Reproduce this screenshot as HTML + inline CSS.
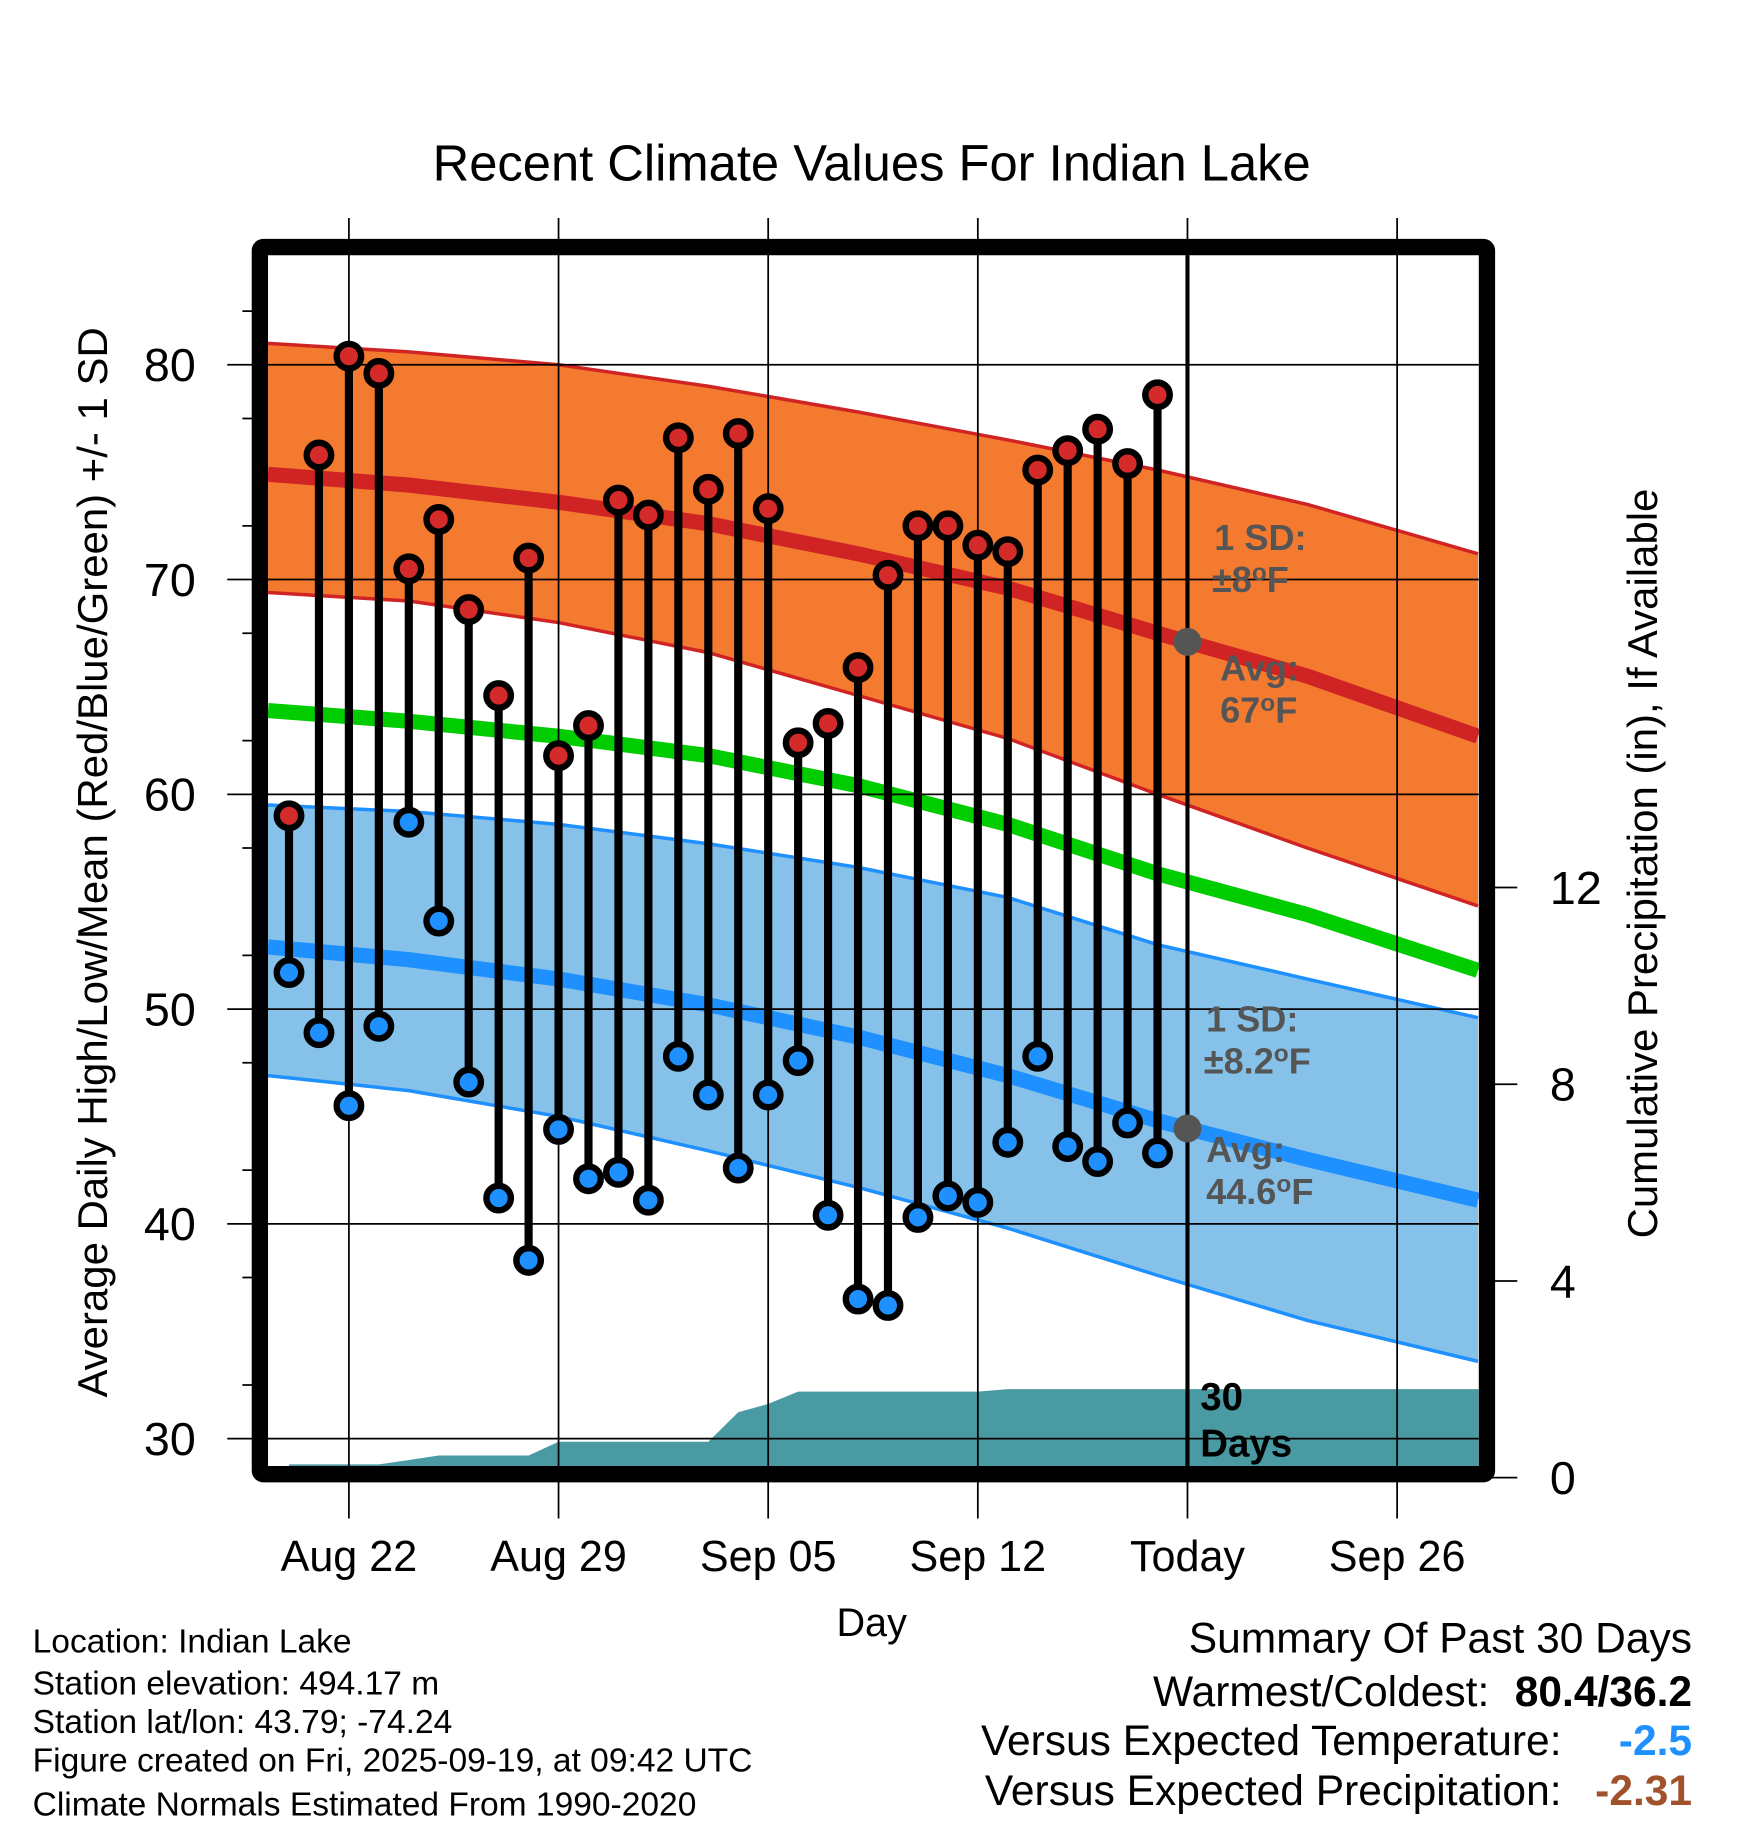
<!DOCTYPE html>
<html><head><meta charset="utf-8">
<style>
html,body{margin:0;padding:0;background:#fff;}
svg{display:block;font-family:"Liberation Sans",Arial,sans-serif;}
</style></head>
<body>
<svg id="chart" width="1748" height="1828" viewBox="0 0 1500 1568.6" xmlns="http://www.w3.org/2000/svg">
<text x="748" y="155" font-size="43.5" text-anchor="middle">Recent Climate Values For Indian Lake</text>
<g id="plot"></g>
<text transform="translate(92,740) rotate(-90)" font-size="36" text-anchor="middle">Average Daily High/Low/Mean (Red/Blue/Green) +/- 1 SD</text>
<text transform="translate(1422,741) rotate(-90)" font-size="36" text-anchor="middle">Cumulative Precipitation (in), If Available</text>
<text x="748" y="1404" font-size="34" text-anchor="middle">Day</text>
<g font-size="28.8">
<text x="28" y="1418">Location: Indian Lake</text>
<text x="28" y="1454">Station elevation: 494.17 m</text>
<text x="28" y="1487">Station lat/lon: 43.79; -74.24</text>
<text x="28" y="1520">Figure created on Fri, 2025-09-19, at 09:42 UTC</text>
<text x="28" y="1558">Climate Normals Estimated From 1990-2020</text>
</g>
<g font-size="36.5" text-anchor="end">
<text x="1452" y="1418">Summary Of Past 30 Days</text>
<text x="1278" y="1464">Warmest/Coldest:</text>
<text x="1452" y="1464" font-weight="bold">80.4/36.2</text>
<text x="1340" y="1506">Versus Expected Temperature:</text>
<text x="1452" y="1506" font-weight="bold" fill="#1e90ff">-2.5</text>
<text x="1340" y="1549">Versus Expected Precipitation:</text>
<text x="1452" y="1549" font-weight="bold" fill="#a0522d">-2.31</text>
</g>
</svg>
<script>
// ---- data ----
const highs=[59.0,75.8,80.4,79.6,70.5,72.8,68.6,64.6,71.0,61.8,63.2,73.7,73.0,76.6,74.2,76.8,73.3,62.4,63.3,65.9,70.2,72.5,72.5,71.6,71.3,75.1,76.0,77.0,75.4,78.6];
const lows=[51.7,48.9,45.5,49.2,58.7,54.1,46.6,41.2,38.3,44.4,42.1,42.4,41.1,47.8,46.0,42.6,46.0,47.6,40.4,36.5,36.2,40.3,41.3,41.0,43.8,47.8,43.6,42.9,44.7,43.3];
const precipCum=[0.27,0.27,0.27,0.27,0.36,0.45,0.45,0.45,0.45,0.73,0.73,0.73,0.73,0.73,0.73,1.33,1.5,1.75,1.75,1.75,1.75,1.75,1.75,1.75,1.8,1.8,1.8,1.8,1.8,1.8];
const normDays=[-0.7,4,9,14,19,24,29,34,39.7];
const avgHigh=[74.9,74.4,73.6,72.6,71.2,69.6,67.5,65.5,62.7];
const upHigh=[81.0,80.6,80.0,79.0,77.8,76.5,75.1,73.5,71.2];
const loHigh=[69.4,69.0,68.0,66.6,64.6,62.6,60.0,57.5,54.8];
const avgMean=[63.9,63.4,62.7,61.8,60.4,58.6,56.3,54.4,51.8];
const avgLow=[52.9,52.3,51.4,50.2,48.7,46.9,44.8,43.0,41.1];
const upLow=[59.5,59.2,58.6,57.7,56.6,55.2,53.0,51.4,49.6];
const loLow=[46.9,46.2,45.0,43.4,41.7,39.8,37.6,35.5,33.6];
const yTicks=[30,40,50,60,70,80];
const y2Ticks=[0,4,8,12];
const xTickDays=[2,9,16,23,30,37];
const xTickLabels=["Aug 22","Aug 29","Sep 05","Sep 12","Today","Sep 26"];
const todayDay=30;
// ---- scales ----
const X=d=>248+25.7*d;
const Y=t=>313+(80-t)*18.43;
const Y2=p=>1268-p*42.2;
const NS="http://www.w3.org/2000/svg";
const g=document.getElementById('plot');
function el(tag,attrs,parent){const e=document.createElementNS(NS,tag);for(const k in attrs)e.setAttribute(k,attrs[k]);(parent||g).appendChild(e);return e;}
const L=230,R=1269,T=219,B=1258;
const defs=el('defs',{});
const cp=el('clipPath',{id:'cp'},defs);el('rect',{x:L,y:T,width:R-L,height:B-T},cp);
const inner=el('g',{'clip-path':'url(#cp)'});
function pts(days,vals){return days.map((d,i)=>X(d).toFixed(1)+','+Y(vals[i]).toFixed(1));}
let e=el('polygon',{points:pts(normDays,upHigh).concat(pts(normDays,loHigh).reverse()).join(' '),fill:'#f47a30'},inner);

e=el('polygon',{points:pts(normDays,upLow).concat(pts(normDays,loLow).reverse()).join(' '),fill:'#85c1e9'},inner);

const pp=[X(0)+','+B];precipCum.forEach((p,i)=>pp.push(X(i)+','+Y2(p)));pp.push(R+','+Y2(precipCum[precipCum.length-1]));pp.push(R+','+B);
e=el('polygon',{points:pp.join(' '),fill:'#4a9aa3'},inner);

function line(vals,color,w,name){const l=el('polyline',{points:pts(normDays,vals).join(' '),fill:'none',stroke:color,'stroke-width':w},inner);}
line(upHigh,'#d02424',3,'high-upper-sd');line(loHigh,'#d02424',3,'high-lower-sd');
line(upLow,'#1e90ff',3,'low-upper-sd');line(loLow,'#1e90ff',3,'low-lower-sd');
line(avgHigh,'#d02424',13,'avg-high-line');line(avgMean,'#00cc00',13,'avg-mean-line');line(avgLow,'#1e90ff',13,'avg-low-line');
yTicks.forEach(t=>{const a=el('line',{x1:195,x2:R,y1:Y(t),y2:Y(t),stroke:'#000','stroke-width':1.5});
 const tx=el('text',{x:168,y:Y(t)+14,'font-size':40,'text-anchor':'end'});tx.textContent=t;});
for(let t=32.5;t<85;t+=5){if(t%10!==0)el('line',{x1:208,x2:222,y1:Y(t),y2:Y(t),stroke:'#000','stroke-width':1.5});}
xTickDays.forEach((d,i)=>{const a=el('line',{x1:X(d),x2:X(d),y1:187,y2:1303,stroke:'#000','stroke-width':1.5});
 const tx=el('text',{x:X(d),y:1348,'font-size':37,'text-anchor':'middle'});tx.textContent=xTickLabels[i];});
y2Ticks.forEach(p=>{el('line',{x1:1276,x2:1302,y1:Y2(p),y2:Y2(p),stroke:'#000','stroke-width':1.5});
 const tx=el('text',{x:1330,y:Y2(p)+14,'font-size':40,'text-anchor':'start'});tx.textContent=p;});
e=el('line',{x1:X(todayDay),x2:X(todayDay),y1:T,y2:B,stroke:'#000','stroke-width':3.5});

highs.forEach((h,i)=>{const s=el('line',{x1:X(i),x2:X(i),y1:Y(h),y2:Y(lows[i]),stroke:'#000','stroke-width':7});});
function marker(x,y,fill,name){const c=el('circle',{cx:x,cy:y,r:10.5,fill:fill,stroke:'#000','stroke-width':5.5});}
highs.forEach((h,i)=>marker(X(i),Y(h),'#d42a2a','high-point'));
lows.forEach((l,i)=>marker(X(i),Y(l),'#1e90ff','low-point'));
const ah=avgHigh[6]+(avgHigh[7]-avgHigh[6])*(todayDay-29)/5, al=avgLow[6]+(avgLow[7]-avgLow[6])*(todayDay-29)/5;
e=el('circle',{cx:X(todayDay),cy:Y(ah),r:12,fill:'#555'});
e=el('circle',{cx:X(todayDay),cy:Y(al),r:12,fill:'#555'});
function txt(x,y,s,size,fill,name){const t=el('text',{x:x,y:y,'font-size':size,'font-weight':'bold',fill:fill});t.innerHTML=s;}
txt(1042,472,'1 SD:',31,'#555','high-sd-label');txt(1040,508,'±8<tspan dy="-10" font-size="21">o</tspan><tspan dy="10">F</tspan>',31,'#555','high-sd-value');
txt(1047,584,'Avg:',31,'#555','high-avg-label');txt(1047,620,'67<tspan dy="-10" font-size="21">o</tspan><tspan dy="10">F</tspan>',31,'#555','high-avg-value');
txt(1035,885,'1 SD:',31,'#555','low-sd-label');txt(1033,921,'±8.2<tspan dy="-10" font-size="21">o</tspan><tspan dy="10">F</tspan>',31,'#555','low-sd-value');
txt(1035,997,'Avg:',31,'#555','low-avg-label');txt(1035,1033,'44.6<tspan dy="-10" font-size="21">o</tspan><tspan dy="10">F</tspan>',31,'#555','low-avg-value');
txt(1030,1210,'30',33,'#000','days-label');txt(1030,1250,'Days',33,'#000','days-label-2');
e=el('rect',{x:223,y:212,width:1053,height:1053,fill:'none',stroke:'#000','stroke-width':14,rx:3});

</script>
</body></html>
